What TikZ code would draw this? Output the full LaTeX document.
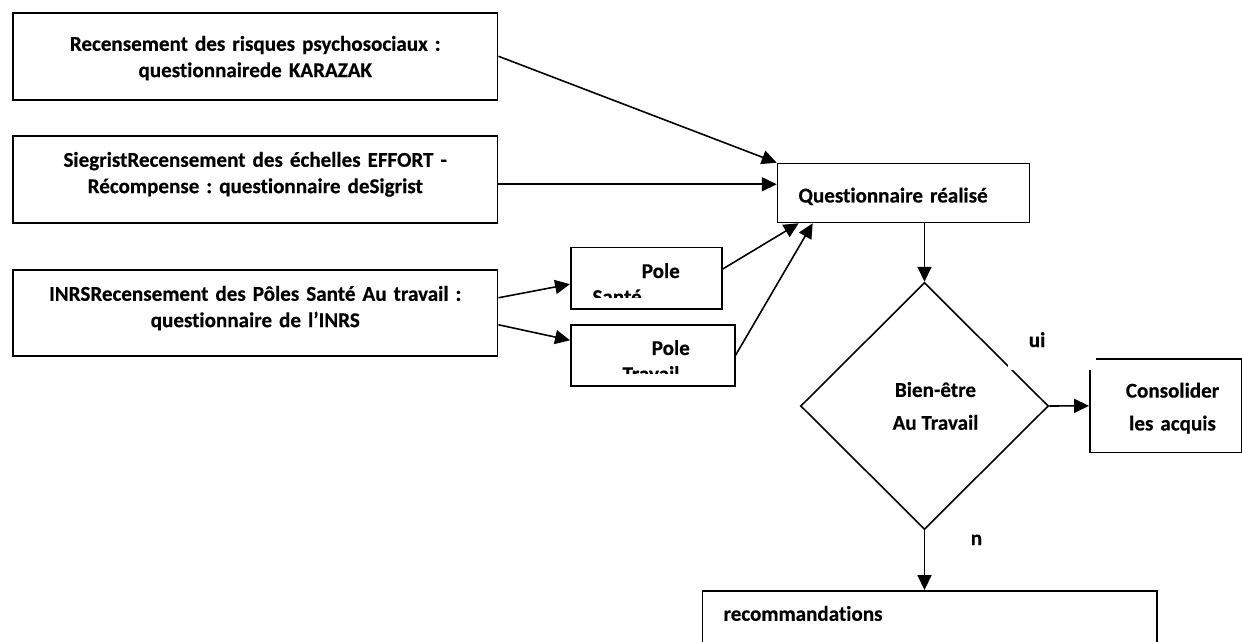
\documentclass[tikz,border=0pt]{standalone}
\usepackage{fontspec}
\setmainfont{Carlito}[Ligatures=NoCommon,BoldFeatures={FakeBold=0.4}]
\frenchspacing
\usetikzlibrary{arrows.meta,shapes.geometric,calc}

\begin{document}
\begin{tikzpicture}[x=0.02cm,y=-0.02cm,line width=0.9pt,
		>={Triangle[length=8.5pt,width=8pt]},
		every node/.style={font=\bfseries\fontsize{12}{15}\selectfont},
		wide/.style={font=\bfseries\fontsize{12}{18.7}\selectfont},
		mybox/.style={draw,rectangle,anchor=north west,inner xsep=0.1cm,inner ysep=0pt,align=center},
		txtbox/.style={draw,rectangle,anchor=north west,inner xsep=0.42cm,inner ysep=0pt,align=left},
		polebox/.style={draw,rectangle,anchor=north west,inner sep=0pt},
		mytext/.style={anchor=base west,inner sep=0pt}]
		
		\clip (0,0) rectangle (1242,642);
		
		\node[mybox,text width=9.5cm,text height=0.76cm,text depth=0.98cm] (karazak) at (12,12)
			{Recensement des risques psychosociaux :\\questionnairede KARAZAK};
		\node[mybox,text width=9.5cm,text height=0.62cm,text depth=1.12cm] (sigrist) at (12,135)
			{SiegristRecensement des échelles EFFORT -\\Récompense : questionnaire deSigrist};
		\node[mybox,text width=9.5cm,text height=0.62cm,text depth=1.1cm] (inrs) at (12,269)
			{INRSRecensement des Pôles Santé Au travail :\\questionnaire de l’INRS};
		\node[txtbox,text width=4.2cm,text height=0.78cm,text depth=0.4cm] (quest) at (776.7,162.7)
			{Questionnaire réalisé};
		
		\node[polebox,minimum width=3.02cm,minimum height=1.226cm] (polesante) at (570,246.7) {};
		\node[polebox,minimum width=3.28cm,minimum height=1.22cm] (poletravail) at (570,324) {};
		\begin{scope}
			\clip (572,248) rectangle (719,297);
			\node[mytext] (sante1) at (641,278) {Pole};
			\node[mytext] (sante2) at (591.7,304) {Santé};
		\end{scope}
		\begin{scope}
			\clip (572,326) rectangle (732,373);
			\node[mytext] (travail1) at (651,355) {Pole};
			\node[mytext] (travail2) at (621.7,381) {Travail};
		\end{scope}
		
		\node[draw,diamond,wide,minimum width=4.96cm,minimum height=4.94cm,inner sep=0pt,align=center] (bien) at (924.5,406)
			{\hspace*{0.44cm}Bien-être\\\hspace*{0.44cm}Au Travail};
		\node[mybox,wide,text width=2.84cm,text height=0.77cm,text depth=1.1cm] (consol) at (1089,358.3)
			{\hspace*{0.27cm}Consolider\\\hspace*{0.27cm}les acquis};
		\node[txtbox,text width=8.25cm,text height=0.6cm,text depth=1.6cm] (recom) at (701.7,590)
			{recommandations};
		\node[fill=white,anchor=base west,inner xsep=0.42cm,inner ysep=0pt,text width=0.92cm,text height=0.3cm,text depth=0.46cm] (oui) at (1007,347) {ui};
		\node[mytext] (non) at (970,545) {n};
		
		\coordinate (s2) at ($(sigrist.east)+(0,5)$);
		\draw[->] (karazak.east) -- (quest.north west);
		\draw[->] (s2) -- (quest.west |- s2);
		\draw[->] ($(inrs.east)+(0,-15)$) -- ($(polesante.west)+(0,6)$);
		\draw[->] ($(inrs.east)+(0,12)$) -- ($(poletravail.west)+(0,-15)$);
		\draw[->] ($(polesante.east)+(0,-9)$) -- ($(quest.south west)+(22,0)$);
		\draw[->] (poletravail.east) -- ($(quest.south west)+(36,0)$);
		\draw[->] (quest.south -| bien.north) -- (bien.north);
		\draw[->] (bien.east) -- (consol.west);
		\draw[->] (bien.south) -- (bien.south |- recom.north);
\end{tikzpicture}
\end{document}
